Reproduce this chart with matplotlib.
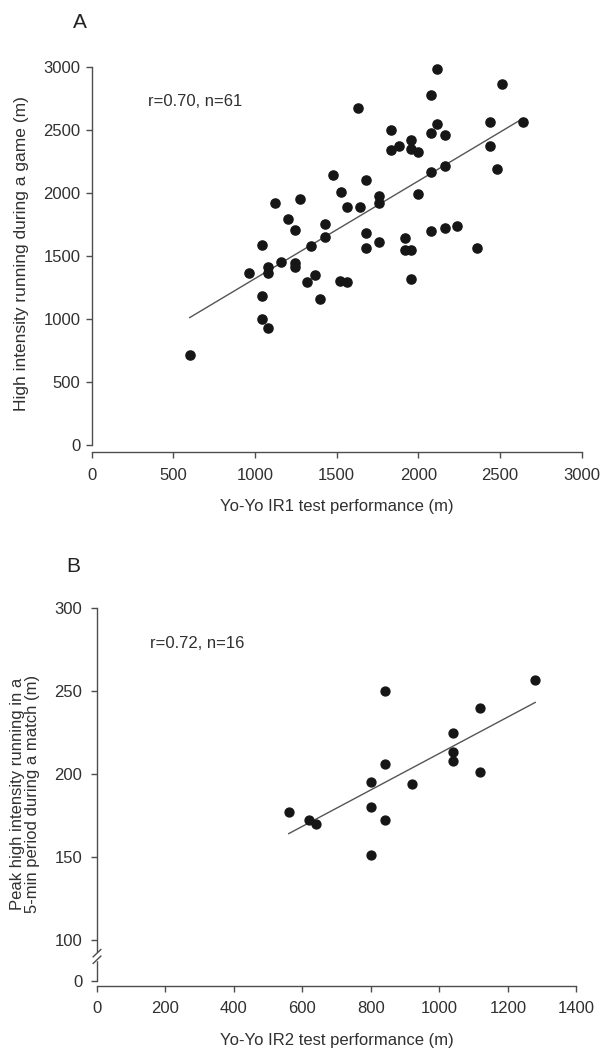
import matplotlib.pyplot as plt
import numpy as np

# panel A: Yo-Yo IR1 (m) vs high intensity running in a game (m)
ir1 = [600, 965, 1080, 1080, 1160, 1245, 1245, 1040, 1040, 1080,
       1320, 1365, 1400, 1520, 1560, 1040, 1120, 1275, 1200, 1245,
       1430, 1430, 1340, 1630, 1480, 1525, 1560, 1640, 2115, 2515,
       2080, 2440, 2640, 2115, 2080, 2160, 1835, 1955, 1835, 1880,
       1955, 2000, 2440, 2480, 2080, 2160, 1680, 2000, 1760, 1760,
       1680, 2080, 2160, 2235, 1680, 1760, 1920, 1920, 1955, 2360,
       1955]
hir_game = [710, 1365, 1410, 1365, 1455, 1440, 1415, 1185, 1000, 930,
            1290, 1350, 1160, 1300, 1295, 1585, 1920, 1950, 1795, 1705,
            1755, 1650, 1575, 2670, 2145, 2010, 1885, 1885, 2980, 2860,
            2775, 2565, 2565, 2545, 2475, 2460, 2495, 2415, 2340, 2370,
            2350, 2320, 2375, 2190, 2165, 2210, 2100, 1990, 1975, 1920,
            1680, 1695, 1720, 1735, 1565, 1610, 1640, 1545, 1545, 1560,
            1315]

# panel B: Yo-Yo IR2 (m) vs peak 5-min high intensity running (m)
ir2 = [560, 620, 640, 800, 800, 840, 800, 840, 840, 920, 1040, 1040, 1040, 1120, 1120, 1280]
peak_hir = [177, 172, 170, 195, 180, 172, 151, 250, 206, 194, 225, 213, 208, 240, 201, 257]

xticks_a = [0, 500, 1000, 1500, 2000, 2500, 3000]
yticks_a = [0, 500, 1000, 1500, 2000, 2500, 3000]
xticks_b = [0, 200, 400, 600, 800, 1000, 1200, 1400]
yticks_b = [100, 150, 200, 250, 300]

plt.rcParams['font.family'] = ['Liberation Sans', 'DejaVu Sans']
plt.rcParams['font.size'] = 12

W, H = 603, 1049
fig = plt.figure(figsize=(W / 100, H / 100), dpi=100)


def px_axes(left, top, right, bottom):
    return fig.add_axes([left / W, 1 - bottom / H, (right - left) / W, (bottom - top) / H])


def px_text(x, y, s, **kw):
    return fig.text(x / W, 1 - y / H, s, **kw)


spine_col = '#4d4d4d'
dot_col = '#161616'
text_col = '#303030'

axA = px_axes(91.7, 66.7, 581.7, 445)
axB = px_axes(97, 608.3, 576.3, 981)

for ax in (axA, axB):
    ax.spines['top'].set_visible(False)
    ax.spines['right'].set_visible(False)
    for s in ('left', 'bottom'):
        ax.spines[s].set_color(spine_col)
        ax.spines[s].set_linewidth(1.0)
    ax.tick_params(direction='out', length=4, width=1.0, color=spine_col,
                   labelcolor=text_col, labelsize=12)

# --- A ---
axA.plot(ir1, hir_game, 'o', ms=6.6, color=dot_col, mec=dot_col, clip_on=False, zorder=3)
k, b = np.polyfit(ir1, hir_game, 1)
xs = np.array([min(ir1), max(ir1)])
axA.plot(xs, k * xs + b, color='#555555', lw=1.0)
axA.set_xlim(0, 3000)
axA.set_ylim(0, 3000)
axA.set_xticks(xticks_a)
axA.set_yticks(yticks_a)
axA.spines['bottom'].set_position(('outward', 5))
axA.tick_params(axis='x', pad=7.5)
axA.tick_params(axis='y', pad=4)

px_text(80, 23, 'A', fontsize=15, color='#222222', ha='center', va='center')
px_text(148, 101.7, 'r=0.70, n=61', fontsize=12, color=text_col, ha='left', va='center')
px_text(21.7, 254, 'High intensity running during a game (m)', fontsize=12.5,
        color=text_col, rotation=90, ha='center', va='center')
px_text(337, 507, 'Yo-Yo IR1 test performance (m)', fontsize=12,
        color=text_col, ha='center', va='center')

# --- B ---
axB.plot(ir2, peak_hir, 'o', ms=6.4, color=dot_col, mec=dot_col, clip_on=False, zorder=3)
k2, b2 = np.polyfit(ir2, peak_hir, 1)
xs2 = np.array([min(ir2), max(ir2)])
axB.plot(xs2, k2 * xs2 + b2, color='#555555', lw=1.0)
axB.set_xlim(0, 1400)
# broken y axis: 0 sits at the bottom of the spine, below the break
axB.set_ylim(75, 300)
axB.set_xticks(xticks_b)
axB.set_yticks([75] + yticks_b)
axB.set_yticklabels(['0'] + [str(t) for t in yticks_b])
axB.spines['bottom'].set_position(('outward', 3.6))
axB.tick_params(axis='x', pad=6.5)
axB.tick_params(axis='y', pad=6.5)

tr = axB.get_yaxis_transform()
axB.plot([0, 0], [88.3, 91.3], color='white', lw=2.5, transform=tr, clip_on=False, zorder=4)
for yb in (87.8, 91.8):
    axB.plot([-0.008, 0.008], [yb - 2.2, yb + 2.2], color=spine_col, lw=1.0,
             transform=tr, clip_on=False, zorder=5)

px_text(73, 567, 'B', fontsize=15, color='#222222', ha='center', va='center')
px_text(150, 643, 'r=0.72, n=16', fontsize=12, color=text_col, ha='left', va='center')
px_text(25, 794, 'Peak high intensity running in a\n5-min period during a match (m)',
        fontsize=12, color=text_col, rotation=90, ha='center', va='center',
        linespacing=0.97, multialignment='center')
px_text(337, 1040, 'Yo-Yo IR2 test performance (m)', fontsize=12,
        color=text_col, ha='center', va='center')

fig.savefig('out.png', dpi=100)
